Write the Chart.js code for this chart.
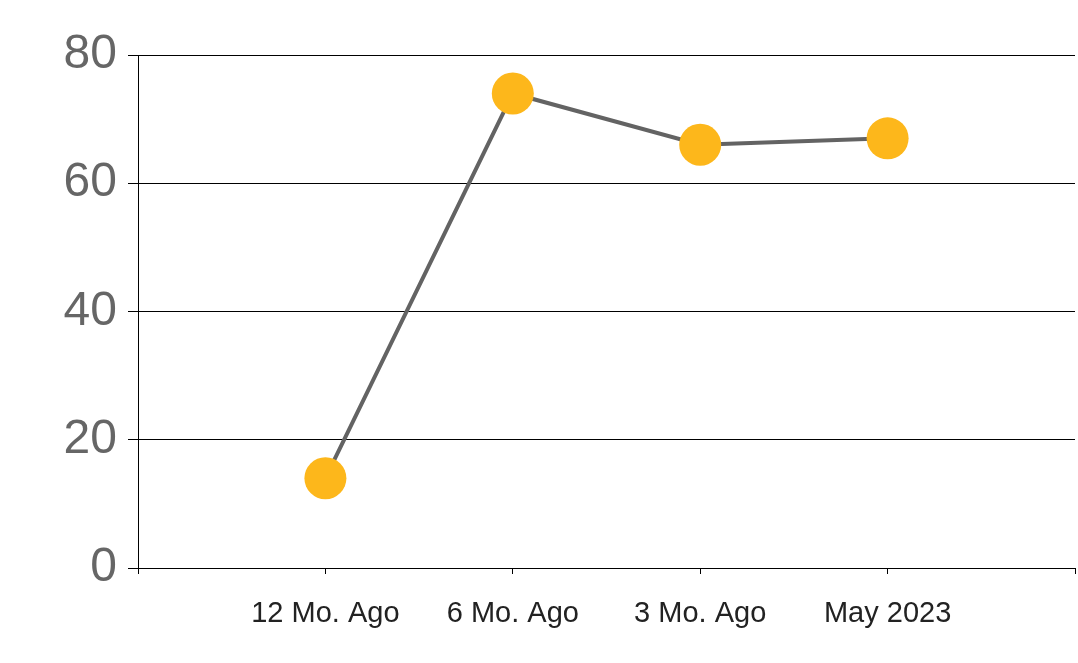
<!DOCTYPE html>
<html>
<head>
<meta charset="utf-8">
<script src="https://cdn.jsdelivr.net/npm/chart.js@4/dist/chart.umd.min.js"></script>
<style>
	html, body { margin: 0; padding: 0; background: #fff; overflow: hidden; }
	#wrap { width: 1078px; height: 663px; position: relative; }
	#myChart { display: block; }
</style>
</head>
<body>
<div id="wrap"><canvas id="myChart"></canvas></div>
<script>
// data --- empty slots at both ends keep the axis wider than the points
var categories = ['', '12 Mo. Ago', '6 Mo. Ago', '3 Mo. Ago', 'May 2023', ''];
var values = [null, 14, 74, 66, 67, null];
var yTicks = [0, 20, 40, 60, 80];

// no dot for the empty slots
function dotRadius(c) {
	return values[c.dataIndex] == null ? 0 : 21
}

var ctx = document.getElementById('myChart').getContext('2d');
var chart = new Chart(ctx, {
	type: 'line',
	data: {
		labels: categories,
		datasets: [{
			data: values,
			borderColor: '#636363',
			borderWidth: 4,
			tension: 0,
			pointRadius: dotRadius,
			pointHoverRadius: dotRadius,
			pointBackgroundColor: '#FDB71B',
			pointBorderWidth: 0,
			spanGaps: false
		}]
	},
	options: {
		responsive: true,
		maintainAspectRatio: false,
		animation: false,
		layout: { padding: { top: 55, right: 3, bottom: 0, left: 0 } },
		plugins: {
			legend: { display: false },
			tooltip: { enabled: false }
		},
		scales: {
			x: {
				offset: false,
				grid: { drawOnChartArea: false, drawTicks: true, tickLength: 6, color: '#000', tickColor: '#000' },
				border: { color: '#000', width: 1 },
				ticks: {
					autoSkip: false,
					maxRotation: 0,
					padding: 23,
					color: '#222',
					font: { family: '"Liberation Sans", Arial, sans-serif', size: 29 }
				},
				afterFit: function (axis) {
					axis.height = 95;
					// tick padding gets added to the sides too, drop it
					axis.paddingLeft = 0;
					axis.paddingRight = 0;
				}
			},
			y: {
				min: yTicks[0],
				max: yTicks[yTicks.length - 1],
				afterBuildTicks: function (axis) {
					axis.ticks = yTicks.map(function (v) { return { value: v }; });
				},
				grid: { color: '#000', tickColor: '#000', lineWidth: 1, tickLength: 10 },
				border: { color: '#000', width: 1 },
				ticks: {
					padding: 11,
					color: '#666',
					font: { family: '"Liberation Sans", Arial, sans-serif', size: 48 }
				},
				afterFit: function (axis) { axis.width = 138; }
			}
		}
	}
});
</script>
</body>
</html>
